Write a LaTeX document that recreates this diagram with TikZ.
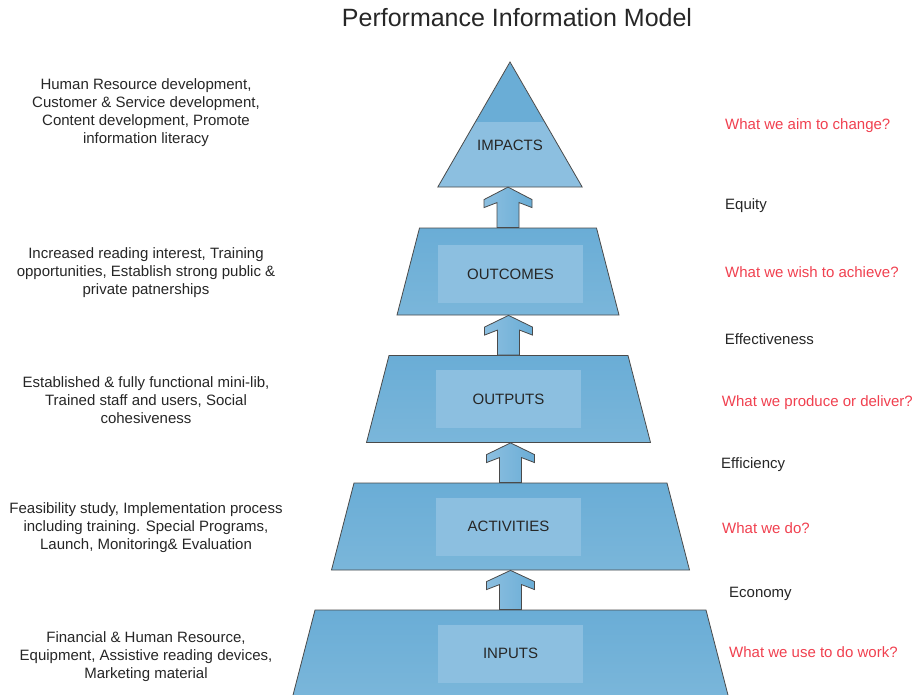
\documentclass[tikz,border=0pt]{standalone}
\usepackage{fontspec}
\setmainfont{Liberation Sans}
\usetikzlibrary{shapes.geometric,calc}
\definecolor{tierfill}{HTML}{7AB6DA}
\definecolor{tiertop}{HTML}{6AADD6}
\definecolor{corefill}{HTML}{8CBFE0}
\definecolor{edgegray}{HTML}{4A4A4A}
\definecolor{askred}{HTML}{F0404F}
\definecolor{txtgray}{HTML}{262626}
\tikzset{
  tier/.style={trapezium,trapezium left angle=75.5,trapezium right angle=75.5,
    text height=87pt,text depth=0pt,inner sep=0pt,
    draw=edgegray,line width=0.8pt,top color=tiertop,bottom color=tierfill},
  core/.style={fill=corefill,minimum width=145pt,minimum height=58pt,inner sep=0pt,text=txtgray},
  sidetext/.style={align=center,text=txtgray},
  ask/.style={anchor=base west,inner sep=0pt,text=askred},
  measure/.style={anchor=base west,inner sep=0pt,text=txtgray},
  blk/.style={draw=edgegray,line width=0.8pt,left color=corefill,right color=tiertop}
}
\newcommand\liftarrow[2]{%
  \draw[blk] ($(#1)+(-11,0)$) -- ++(0,-25) -- ++(-13,5) -- ++(0,-8)
    -- (#1 |- #2) -- ($(#1)+(24,-28)$) -- ++(0,8) -- ++(-13,-5) -- ++(0,25) -- cycle;}
\begin{document}
\begin{tikzpicture}[x=1pt,y=-1pt,font=\fontsize{15}{18}\selectfont]
\useasboundingbox (0,0) rectangle (915,695);
\node[text=txtgray,font=\fontsize{25}{30}\selectfont] (title) at (517,18) {Performance Information Model};

\node[regular polygon,regular polygon sides=3,minimum size=166pt,inner sep=0pt,fill=tiertop] (impacts) at (510,145.4) {};
\begin{scope}
\clip (impacts.corner 1) -- (impacts.corner 2) -- (impacts.corner 3) -- cycle;
\fill[corefill] (430,122) rectangle (590,190);
\end{scope}
\draw[edgegray,line width=0.8pt] (impacts.corner 1) -- (impacts.corner 2) -- (impacts.corner 3) -- cycle;
\node[text=txtgray] (impactsl) at (impacts) {IMPACTS};

\node[tier,text width=177pt] (outcomes) at (508,271.5) {};
\node[core] (outcomesl) at (510.5,274) {OUTCOMES};
\node[tier,text width=239pt] (outputs) at (508.5,399) {};
\node[core] (outputsl) at (outputs) {OUTPUTS};
\node[tier,text width=313pt] (activities) at (510.5,526.5) {};
\node[core] (activitiesl) at (508.5,526.5) {ACTIVITIES};
\node[tier,text width=391pt] (inputs) at (510.5,653.5) {};
\node[core] (inputsl) at (inputs) {INPUTS};

\liftarrow{outcomes.north}{impacts.corner 2}
\liftarrow{outputs.north}{outcomes.south}
\liftarrow{activities.north}{outputs.south}
\liftarrow{inputs.north}{activities.south}

\node[sidetext] (impactsd) at (146,112.3) {Human Resource development,\\Customer \& Service development,\\Content development, Promote\\information literacy};
\node[sidetext] (outcomesd) at (146,272.8) {Increased reading interest, Training\\opportunities, Establish strong public \&\\private patnerships};
\node[sidetext] (outputsd) at (146,400.3) {Established \& fully functional mini-lib,\\Trained staff and users, Social\\cohesiveness};
\node[sidetext] (activitiesd) at (146,527.9) {Feasibility study, Implementation process\\including training. Special Programs,\\Launch, Monitoring\& Evaluation};
\node[sidetext] (inputsd) at (146,656.7) {Financial \& Human Resource,\\Equipment, Assistive reading devices,\\Marketing material};

\node[ask] (impactsq) at (725,130) {What we aim to change?};
\node[measure] (equity) at (725,210) {Equity};
\node[ask] (outcomesq) at (725,277.7) {What we wish to achieve?};
\node[measure] (effect) at (724.7,344.3) {Effectiveness};
\node[ask] (outputsq) at (721.7,406) {What we produce or deliver?};
\node[measure] (effic) at (721,468.5) {Efficiency};
\node[ask] (activitiesq) at (722,533.5) {What we do?};
\node[measure] (economy) at (729,597.5) {Economy};
\node[ask] (inputsq) at (729,657.5) {What we use to do work?};
\end{tikzpicture}
\end{document}
